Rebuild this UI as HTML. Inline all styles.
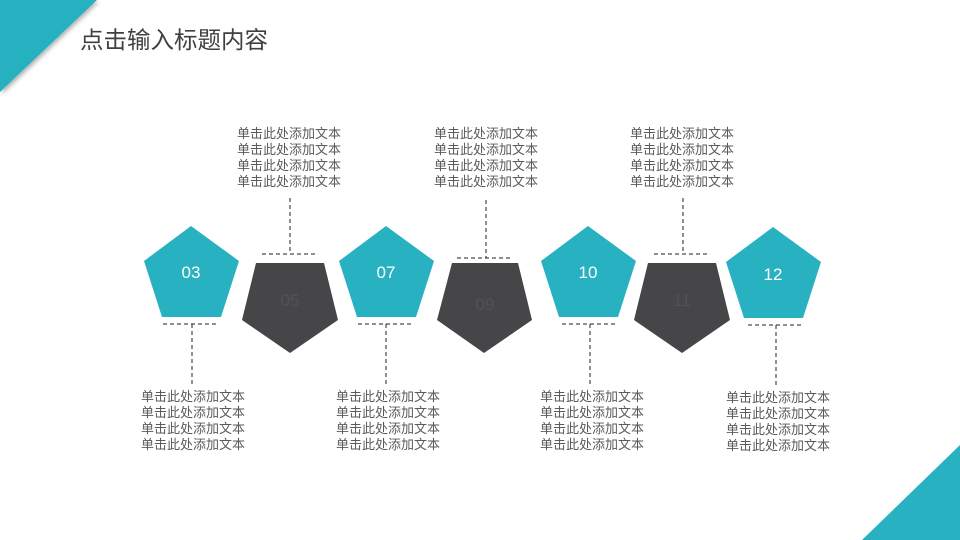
<!DOCTYPE html>
<html><head><meta charset="utf-8"><style>
html,body{margin:0;padding:0;background:#fff}
svg{display:block}
.t{font-family:"Liberation Sans","Noto Sans CJK SC",sans-serif;font-size:13px;fill:#5a5a5a}
.n{font-family:"Liberation Sans",sans-serif;font-size:17px;text-anchor:middle}
</style></head><body>
<svg width="960" height="540" viewBox="0 0 960 540">
<defs><filter id="sh" x="-20%" y="-20%" width="140%" height="140%"><feDropShadow dx="2" dy="2" stdDeviation="2" flood-color="#000" flood-opacity="0.3"/></filter></defs>
<polygon points="0,0 97,0 0,92" fill="#27b1c1" filter="url(#sh)"/>
<polygon points="960,445 960,540 862,540" fill="#27b1c1"/>
<text x="80" y="48" font-family="Liberation Sans,'Noto Sans CJK SC',sans-serif" font-size="23.5" fill="#404040">点击输入标题内容</text>
<g stroke="#222" stroke-width="1" stroke-dasharray="4,3" fill="none">
<line x1="163" y1="324" x2="218" y2="324"/><line x1="192" y1="324" x2="192" y2="386"/>
<line x1="358" y1="324" x2="413" y2="324"/><line x1="386" y1="324" x2="386" y2="386"/>
<line x1="562" y1="324" x2="617" y2="324"/><line x1="590" y1="324" x2="590" y2="386"/>
<line x1="748" y1="325" x2="803" y2="325"/><line x1="776" y1="325" x2="776" y2="387"/>
<line x1="262" y1="254" x2="317" y2="254"/><line x1="290" y1="198" x2="290" y2="254"/>
<line x1="457" y1="258" x2="512" y2="258"/><line x1="486" y1="200" x2="486" y2="258"/>
<line x1="654" y1="254" x2="709" y2="254"/><line x1="683" y1="198" x2="683" y2="254"/>
</g>
<g fill="#27b1c1">
<polygon points="191,226 239,261 221,317 162,317 144,261"/>
<polygon points="386,226 434,261 416,317 357,317 339,261"/>
<polygon points="588,226 636,261 618,317 559,317 541,261"/>
<polygon points="773,227 821,262 803,318 744,318 726,262"/>
</g>
<g fill="#464648">
<polygon points="256,263 324,263 338,320 290,353 242,320"/>
<polygon points="452,263 518,263 532,320 484,353 437,320"/>
<polygon points="648,263 716,263 730,320 682,353 634,320"/>
</g>
<g class="n" fill="#fff">
<text x="191" y="278">03</text><text x="386" y="278">07</text><text x="588" y="278">10</text><text x="773" y="280">12</text>
</g>
<g class="n" fill="#525254">
<text x="290" y="306">05</text><text x="485" y="310">09</text><text x="682" y="306">11</text>
</g>
<g class="t" text-anchor="middle">
<g transform="translate(289,138)"><text y="0">单击此处添加文本</text><text y="16">单击此处添加文本</text><text y="32">单击此处添加文本</text><text y="48">单击此处添加文本</text></g>
<g transform="translate(486,138)"><text y="0">单击此处添加文本</text><text y="16">单击此处添加文本</text><text y="32">单击此处添加文本</text><text y="48">单击此处添加文本</text></g>
<g transform="translate(682,138)"><text y="0">单击此处添加文本</text><text y="16">单击此处添加文本</text><text y="32">单击此处添加文本</text><text y="48">单击此处添加文本</text></g>
<g transform="translate(193,401)"><text y="0">单击此处添加文本</text><text y="16">单击此处添加文本</text><text y="32">单击此处添加文本</text><text y="48">单击此处添加文本</text></g>
<g transform="translate(388,401)"><text y="0">单击此处添加文本</text><text y="16">单击此处添加文本</text><text y="32">单击此处添加文本</text><text y="48">单击此处添加文本</text></g>
<g transform="translate(592,401)"><text y="0">单击此处添加文本</text><text y="16">单击此处添加文本</text><text y="32">单击此处添加文本</text><text y="48">单击此处添加文本</text></g>
<g transform="translate(778,402)"><text y="0">单击此处添加文本</text><text y="16">单击此处添加文本</text><text y="32">单击此处添加文本</text><text y="48">单击此处添加文本</text></g>
</g>
</svg>
</body></html>
